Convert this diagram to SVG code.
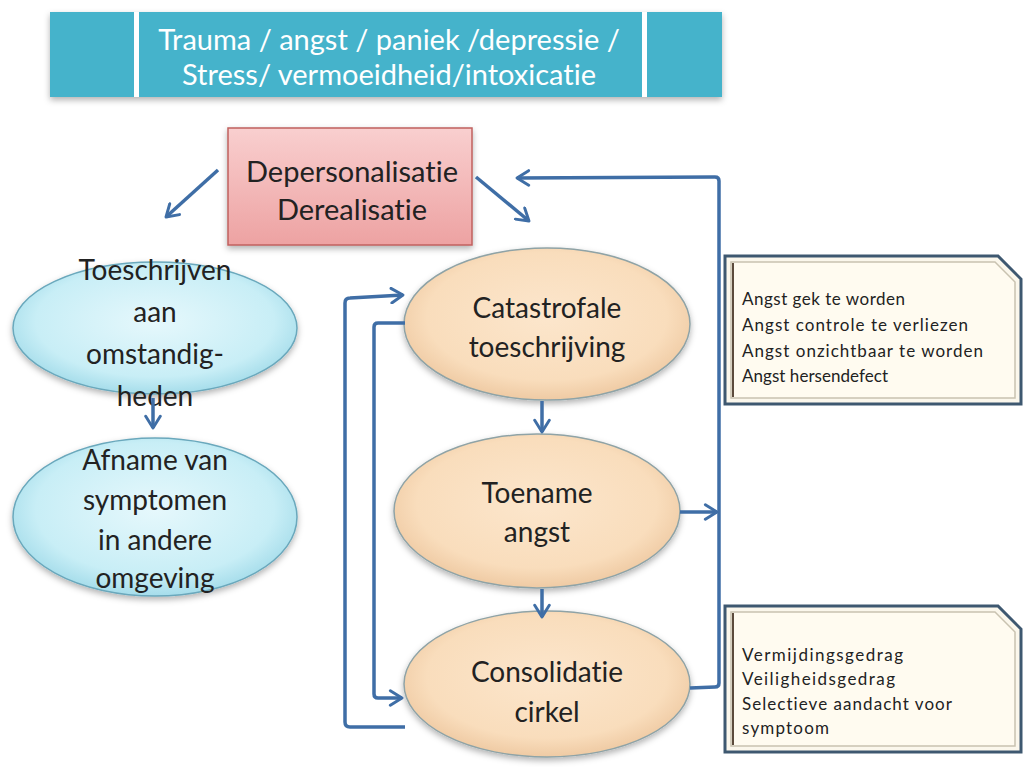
<svg xmlns="http://www.w3.org/2000/svg" width="1024" height="767" viewBox="0 0 1024 767">
<defs>
<style>
text{font-variant-ligatures:none;font-feature-settings:"liga" 0,"dlig" 0}
.t{font-family:Lato,"Liberation Sans",sans-serif;fill:#222;text-anchor:middle}
.big{font-size:28px}
.ban{font-family:Lato,"Liberation Sans",sans-serif;font-size:29px;fill:#fff;text-anchor:middle}
.note{font-family:Lato,"Liberation Sans",sans-serif;font-size:17px;fill:#222}
.con{fill:none;stroke:#3F6EA6;stroke-width:3.5;stroke-linejoin:round}
.bl{fill:url(#gBlue);stroke:#6AA8BC;stroke-width:1.5}
.or{fill:url(#gOr);stroke:#8FA3A6;stroke-width:1.5}
</style>
<radialGradient id="gBlue" cx="0.5" cy="0.45" r="0.6">
<stop offset="0" stop-color="#E6F8FC"/><stop offset="0.7" stop-color="#C8EEF6"/><stop offset="1" stop-color="#98D6E6"/>
</radialGradient>
<radialGradient id="gOr" cx="0.5" cy="0.45" r="0.6">
<stop offset="0" stop-color="#FCE6CC"/><stop offset="0.7" stop-color="#F9DDBC"/><stop offset="1" stop-color="#EBC39A"/>
</radialGradient>
<linearGradient id="gPink" x1="0" y1="0" x2="0" y2="1">
<stop offset="0" stop-color="#F9CFCF"/><stop offset="1" stop-color="#EDA2A2"/>
</linearGradient>
<filter id="sh" x="-10%" y="-10%" width="120%" height="130%">
<feDropShadow dx="0" dy="3" stdDeviation="3" flood-color="#000" flood-opacity="0.3"/>
</filter>
<marker id="ah" viewBox="0 0 12 12" refX="10" refY="6" markerWidth="5" markerHeight="5" orient="auto" markerUnits="strokeWidth">
<path d="M2,1 L10,6 L2,11" fill="none" stroke="#3F6EA6" stroke-width="2" stroke-linecap="round" stroke-linejoin="round"/>
</marker>
</defs>
<rect width="1024" height="767" fill="#fff"/>

<g id="banner">
<rect x="50" y="12" width="672" height="85" fill="#45B3CB" filter="url(#sh)"/>
<rect x="134" y="12" width="5" height="85" fill="#fff"/>
<rect x="642" y="12" width="5" height="85" fill="#fff"/>
<text class="ban" x="389" y="50">Trauma / angst / paniek /depressie /</text>
<text class="ban" x="389" y="85">Stress/ vermoeidheid/intoxicatie</text>
</g>

<g id="depersonalisatie">
<rect x="228" y="128" width="244" height="117" fill="url(#gPink)" stroke="#C0605E" stroke-width="1.5" filter="url(#sh)"/>
<text class="t big" x="352" y="182" style="font-size:29px">Depersonalisatie</text>
<text class="t big" x="352" y="220" style="font-size:29px">Derealisatie</text>
</g>

<g id="toeschrijven">
<ellipse class="bl" cx="155" cy="328" rx="142" ry="66" filter="url(#sh)"/>
<text class="t big" x="155" y="280">Toeschrijven</text>
<text class="t big" x="155" y="322">aan</text>
<text class="t big" x="155" y="364">omstandig-</text>
<text class="t big" x="155" y="406">heden</text>
</g>

<g id="afname">
<ellipse class="bl" cx="155" cy="517" rx="142" ry="79" filter="url(#sh)"/>
<text class="t big" x="155" y="470">Afname van</text>
<text class="t big" x="155" y="510">symptomen</text>
<text class="t big" x="155" y="550">in andere</text>
<text class="t big" x="155" y="588">omgeving</text>
</g>

<g id="catastrofale">
<ellipse class="or" cx="547" cy="324" rx="143" ry="76" filter="url(#sh)"/>
<text class="t big" x="547" y="318">Catastrofale</text>
<text class="t big" x="547" y="357">toeschrijving</text>
</g>

<g id="toename">
<ellipse class="or" cx="537" cy="511" rx="143" ry="77" filter="url(#sh)"/>
<text class="t big" x="537" y="503">Toename</text>
<text class="t big" x="537" y="542">angst</text>
</g>

<g id="consolidatie">
<ellipse class="or" cx="547" cy="684" rx="143" ry="73" filter="url(#sh)"/>
<text class="t big" x="547" y="682">Consolidatie</text>
<text class="t big" x="547" y="722">cirkel</text>
</g>

<g id="note1">
<polygon points="725,256 998,256 1021,279 1021,404 725,404" fill="#FBF7EC" stroke="#3E5870" stroke-width="3"/>
<polygon points="731,262 995,262 1015,282 1015,398 731,398" fill="#FFFBF0" stroke="#C9C2B0" stroke-width="1.5"/>
<line x1="733" y1="263" x2="733" y2="397" stroke="#5C4B3C" stroke-width="2"/>
<text class="note" x="742" y="305" textLength="163" lengthAdjust="spacing">Angst gek te worden</text>
<text class="note" x="742" y="331" textLength="226" lengthAdjust="spacing">Angst controle te verliezen</text>
<text class="note" x="742" y="357" textLength="241" lengthAdjust="spacing">Angst onzichtbaar te worden</text>
<text class="note" x="742" y="382" textLength="146" lengthAdjust="spacing">Angst hersendefect</text>
</g>

<g id="note2">
<polygon points="725,606 998,606 1021,629 1021,752 725,752" fill="#FBF7EC" stroke="#3E5870" stroke-width="3"/>
<polygon points="731,612 995,612 1015,632 1015,746 731,746" fill="#FFFBF0" stroke="#C9C2B0" stroke-width="1.5"/>
<line x1="733" y1="613" x2="733" y2="745" stroke="#5C4B3C" stroke-width="2"/>
<text class="note" x="742" y="661" textLength="161" lengthAdjust="spacing">Vermijdingsgedrag</text>
<text class="note" x="742" y="685" textLength="153" lengthAdjust="spacing">Veiligheidsgedrag</text>
<text class="note" x="742" y="710" textLength="210" lengthAdjust="spacing">Selectieve aandacht voor</text>
<text class="note" x="742" y="734" textLength="87" lengthAdjust="spacing">symptoom</text>
</g>

<g id="connectors">
<path class="con" d="M218,170 L166,217" marker-end="url(#ah)"/>
<path class="con" d="M476,177 L529,221" marker-end="url(#ah)"/>
<path class="con" d="M153,398 L153,428" marker-end="url(#ah)"/>
<path class="con" d="M542,401 L542,432" marker-end="url(#ah)"/>
<path class="con" d="M542,589 L542,617" marker-end="url(#ah)"/>
<path class="con" d="M680,512 L717,512" marker-end="url(#ah)"/>
<path class="con" d="M690,688 L715,687 Q719,687 719,683 L719,181 Q719,177 715,177 L517,178" marker-end="url(#ah)"/>
<path class="con" d="M405,323 L378,323 Q374,323 374,327 L374,694 Q374,698 378,698 L402,698" marker-end="url(#ah)"/>
<path class="con" d="M405,727 L350,727 Q345,727 345,722 L345,303 Q345,298 350,298 L403,295" marker-end="url(#ah)"/>
</g>
</svg>
